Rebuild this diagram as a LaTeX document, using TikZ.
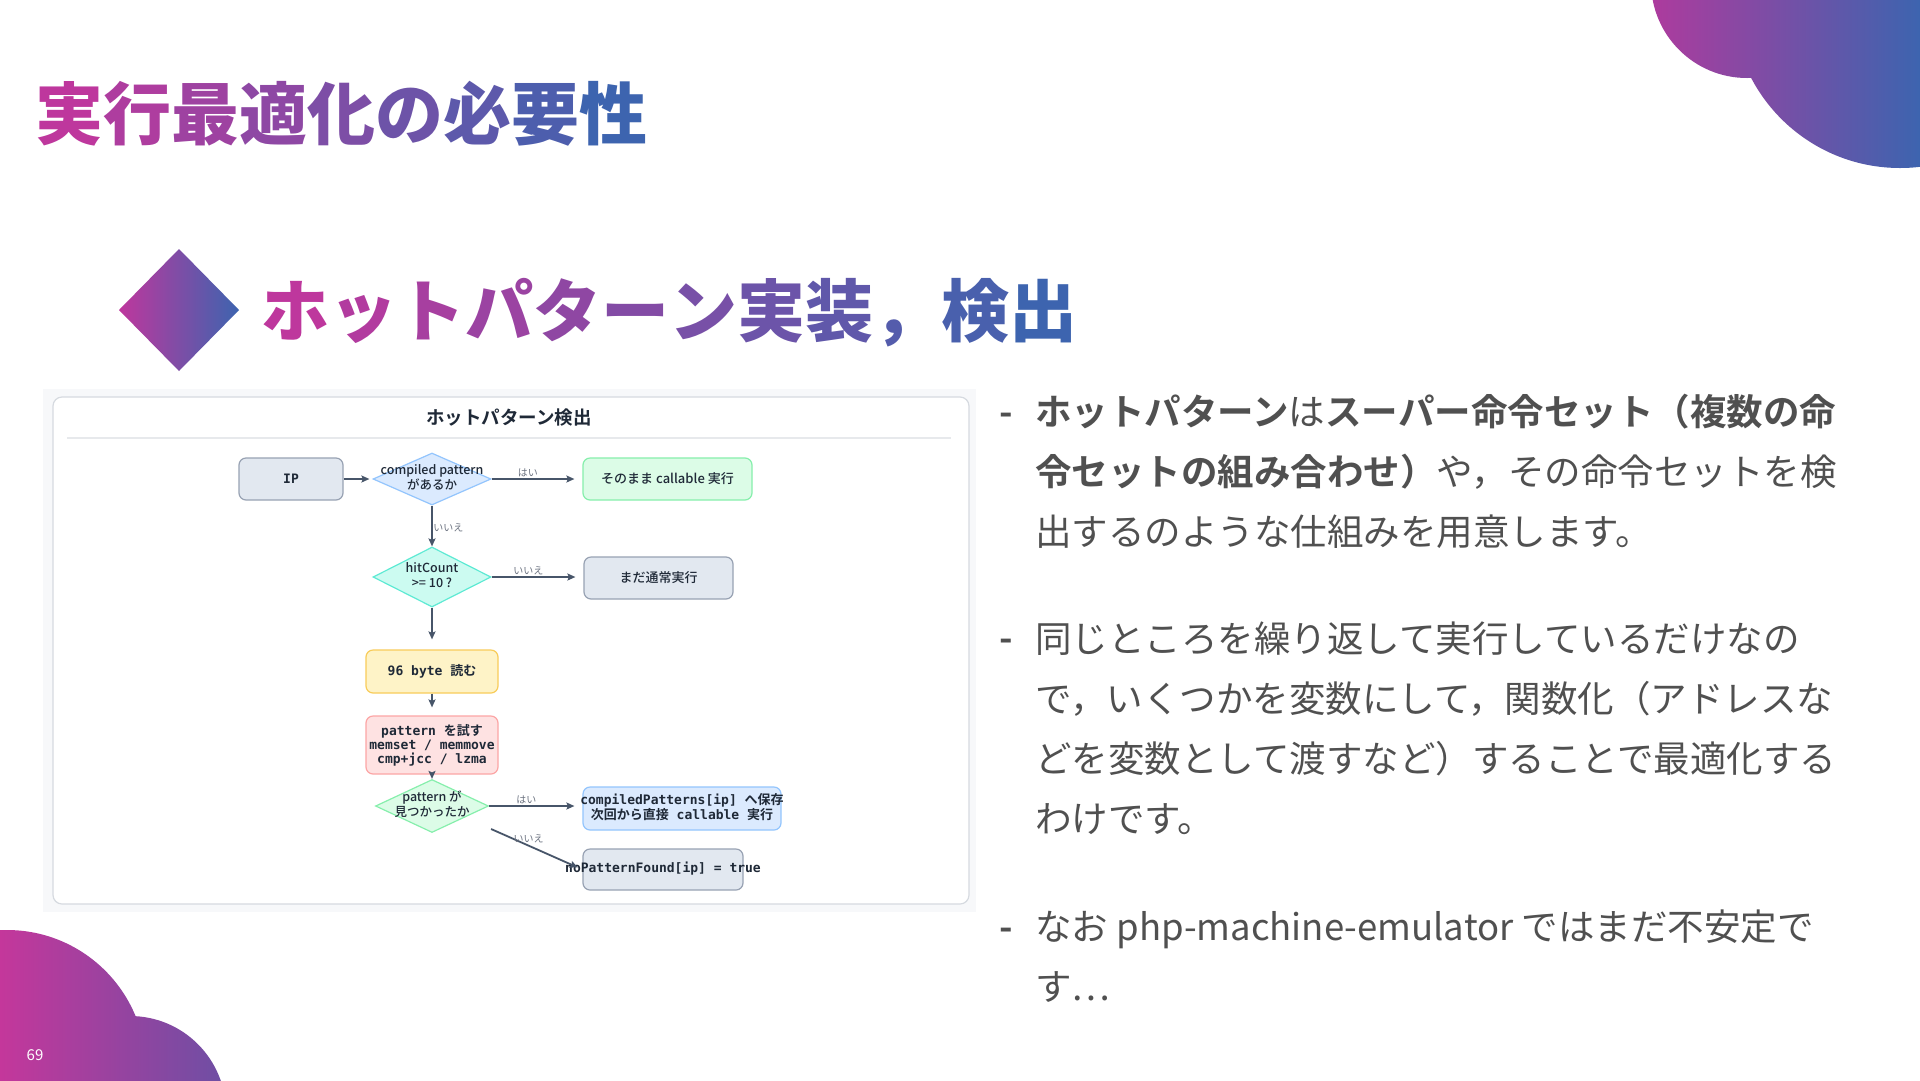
\documentclass[tikz,border=0pt]{standalone}
\usepackage{fontspec}
\setmainfont{Noto Sans CJK JP}[BoldFont={Noto Sans CJK JP Bold}]
\newfontfamily\heavyfont{Noto Sans CJK JP Black}
\newfontfamily\midfont{Noto Sans CJK JP Medium}
\setmonofont{DejaVu Sans Mono}
\usepackage{xcolor}
\definecolor{gradpink}{HTML}{BE379D}
\definecolor{gradblue}{HTML}{3D64AF}
\definecolor{blobpink}{HTML}{B03A9D}
\definecolor{cornerpink}{HTML}{C4379B}
\definecolor{cornerpurple}{HTML}{6C4FA4}
\definecolor{bodytext}{HTML}{505050}
\definecolor{inktext}{HTML}{1F2937}
\definecolor{edgeline}{HTML}{475569}
\definecolor{lbltext}{HTML}{6B7280}
\definecolor{panelbg}{HTML}{F7F8FA}
\definecolor{panelbd}{HTML}{D6DAE0}
\definecolor{rulegray}{HTML}{E7E9EC}
\definecolor{slatebg}{HTML}{E2E8F0}
\definecolor{slatebd}{HTML}{98A2B3}
\definecolor{greenbg}{HTML}{DCFCE7}
\definecolor{greenbd}{HTML}{86EFAC}
\definecolor{bluebg}{HTML}{DBEAFE}
\definecolor{bluebd}{HTML}{93C5FD}
\definecolor{tealbg}{HTML}{CCFBF1}
\definecolor{tealbd}{HTML}{5EEAD4}
\definecolor{yellowbg}{HTML}{FEF3C7}
\definecolor{yellowbd}{HTML}{F8CC5A}
\definecolor{redbg}{HTML}{FEE2E2}
\definecolor{redbd}{HTML}{FCA5A5}
\usetikzlibrary{shapes.geometric, arrows.meta, positioning, calc}

% japanese inside monospace boxes
\newcommand\jtxt[1]{{\rmfamily\bfseries #1}}
% text that may stick out of its shape
\newcommand\flatlines[1]{\smash{\makebox[0pt]{\raisebox{-.25em}{\begin{tabular}{@{}c@{}}#1\end{tabular}}}}}
% left-to-right colour ramp, one glyph at a time
\makeatletter
\newcount\gt@n
\newcount\gt@i
\newcommand\gradtext[3]{%
  \gt@n=0
  \@tfor\gt@c:=#3\do{\advance\gt@n by 1 }%
  \gt@i=0
  \@tfor\gt@c:=#3\do{%
    \pgfmathsetmacro\gt@p{100-100*\the\gt@i/max(\the\gt@n-1,1)}%
    \textcolor{#1!\gt@p!#2}{\gt@c}%
    \advance\gt@i by 1 }}
\makeatother

\begin{document}
\begin{tikzpicture}[
        x=1pt, y=-1pt,
        font=\fontsize{13}{15}\selectfont,
        flow_box/.style={
            rectangle,
            rounded corners=7pt,
            draw=slatebd,
            fill=slatebg,
            line width=1.2pt,
            align=center,
            text=inktext,
            inner sep=2pt,
            font=\midfont\fontsize{13}{15}\selectfont
        },
        flow_mono/.style={
            font=\fontsize{13}{14}\selectfont\ttfamily\bfseries
        },
        flow_dec/.style={
            diamond,
            draw=bluebd,
            fill=bluebg,
            line width=1.2pt,
            inner sep=0pt,
            text=inktext,
            font=\midfont\fontsize{12.5}{15}\selectfont
        },
        flow_lbl/.style={
            text=lbltext,
            inner sep=1.5pt,
            font=\fontsize{10}{12}\selectfont
        },
        flow_arrow/.style={
            -{Stealth[length=8pt, width=7pt, inset=1.5pt]},
            draw=edgeline,
            line width=1.8pt
        },
        head_txt/.style={
            anchor=base west,
            inner sep=0pt,
            font=\heavyfont\fontsize{68}{70}\selectfont
        },
        body_txt/.style={
            anchor=base west,
            inner sep=0pt,
            align=left,
            text=bodytext,
            font=\fontsize{36.5}{60}\selectfont
        },
        dash_txt/.style={
            anchor=base,
            inner sep=0pt,
            text=bodytext,
            font=\fontsize{36.5}{60}\selectfont\bfseries
        }
    ]

    \useasboundingbox (0,0) rectangle (1920,1080);
    \fill[white] (0,0) rectangle (1920,1080);

    % Corner blobs
    \begin{scope}
        \clip (1747,-18) circle (96pt) (1900,0) circle (168pt);
        \shade[left color=blobpink, right color=gradblue] (1645,0) rectangle (1920,175);
    \end{scope}
    \begin{scope}
        \clip (7,1069) circle (139pt) (130,1112) circle (96pt);
        \shade[left color=cornerpink, right color=cornerpurple] (0,925) rectangle (230,1080);
    \end{scope}
    \node[text=white, font=\fontsize{15}{17}\selectfont] (pagenum) at (35,1055) {69};

    % Titles
    \node[head_txt] (slidetitle) at (35,139) {\gradtext{gradpink}{gradblue}{実行最適化の必要性}};
    \shade[left color=gradpink, right color=gradblue] (179,249) -- (239,310) -- (179,371) -- (119,310) -- cycle;
    \node[head_txt] (sectitle) at (261,336) {\gradtext{gradpink}{gradblue}{ホットパターン実装，検出}};

    % Screenshot panel
    \fill[panelbg] (43,389) rectangle (976,912);
    \draw[panelbd, fill=white, line width=1.2pt, rounded corners=9pt] (53,397) rectangle (969,904);
    \node[text=inktext, font=\fontsize{18.5}{20}\selectfont\bfseries] (flowtitle) at (509,418) {ホットパターン検出};
    \draw[rulegray, line width=1.5pt] (67,438) -- (951,438);

    % Flow: lookup
    \node[flow_box, flow_mono, minimum width=104pt, minimum height=42pt] (ip) at (291,479) {IP};
    \node[flow_dec, minimum width=118pt, minimum height=52pt] (hascomp) at (432,479) {\flatlines{compiled pattern\\があるか}};
    \node[flow_box, fill=greenbg, draw=greenbd, minimum width=169pt, minimum height=42pt] (runnow) at (667.5,479) {そのまま callable 実行};
    \node[flow_dec, fill=tealbg, draw=tealbd, minimum width=118pt, minimum height=60pt] (hitcnt) at (432,577) {\flatlines{hitCount\\>= 10 ?}};
    \node[flow_box, minimum width=149pt, minimum height=42pt] (normal) at (658.5,578) {まだ通常実行};

    % Flow: pattern search
    \node[flow_box, flow_mono, fill=yellowbg, draw=yellowbd, minimum width=132pt, minimum height=43pt] (readbytes) at (432,671.5) {96 byte \jtxt{読む}};
    \node[flow_box, flow_mono, fill=redbg, draw=redbd, minimum width=132pt, minimum height=58pt] (trypat) at (432,745) {pattern \jtxt{を試す}\\memset / memmove\\cmp+jcc / lzma};
    \node[flow_dec, fill=greenbg, draw=greenbd, minimum width=113pt, minimum height=53pt] (found) at (432,806) {\flatlines{pattern が\\見つかったか}};
    \node[flow_box, flow_mono, fill=bluebg, draw=bluebd, minimum width=198pt, minimum height=43pt] (store) at (682,808.5) {\flatlines{compiledPatterns[ip] \jtxt{へ保存}\\\jtxt{次回から直接} callable \jtxt{実行}}};
    \node[flow_box, flow_mono, minimum width=160pt, minimum height=41pt] (nofound) at (663,869.5) {\flatlines{noPatternFound[ip] = true}};
    \coordinate (nofrom) at ($(found.east)+(2,23)$);

    % Connectors
    \draw[flow_arrow, shorten >=3pt] (ip) -- (hascomp);
    \draw[flow_arrow, shorten >=8pt] (hascomp) -- node[flow_lbl, pos=0.4, above] (yes1) {はい} (runnow);
    \draw[flow_arrow] (hascomp) -- node[flow_lbl, pos=0.55, right, inner sep=0.5pt] (no1) {いいえ} (hitcnt);
    \draw[flow_arrow, shorten >=8pt] (hitcnt.east) -- node[flow_lbl, pos=0.4, above] (no2) {いいえ} (hitcnt.east -| normal.west);
    \draw[flow_arrow, shorten >=10pt] (hitcnt) -- (readbytes);
    \draw[flow_arrow, shorten >=8pt] (readbytes) -- (trypat);
    \draw[flow_arrow] (trypat) -- (found);
    \draw[flow_arrow, shorten >=8pt] (found.east) -- node[flow_lbl, pos=0.4, above] (yes2) {はい} (found.east -| store.west);
    \draw[flow_arrow, shorten >=5pt] (nofrom) -- node[flow_lbl, pos=0.41, above] (no3) {いいえ} (nofound.west);

    % Notes on the right (multi-line nodes sit on their last baseline)
    \node[dash_txt] (dash1) at (1006,425) {-};
    \node[body_txt] (note1) at (1035,545) {\textbf{ホットパターン}は\textbf{スーパー命令セット（複数の命}\\\textbf{令セットの組み合わせ）}や，その命令セットを検\\出するのような仕組みを用意します。};
    \node[dash_txt] (dash2) at (1006,651) {-};
    \node[body_txt] (note2) at (1035,832) {同じところを繰り返して実行しているだけなの\\で，いくつかを変数にして，関数化（アドレスな\\どを変数として渡すなど）することで最適化する\\わけです。};
    \node[dash_txt] (dash3) at (1006,940) {-};
    \node[body_txt] (note3) at (1035,1000) {なお php-machine-emulator ではまだ不安定で\\す…};

\end{tikzpicture}
\end{document}
